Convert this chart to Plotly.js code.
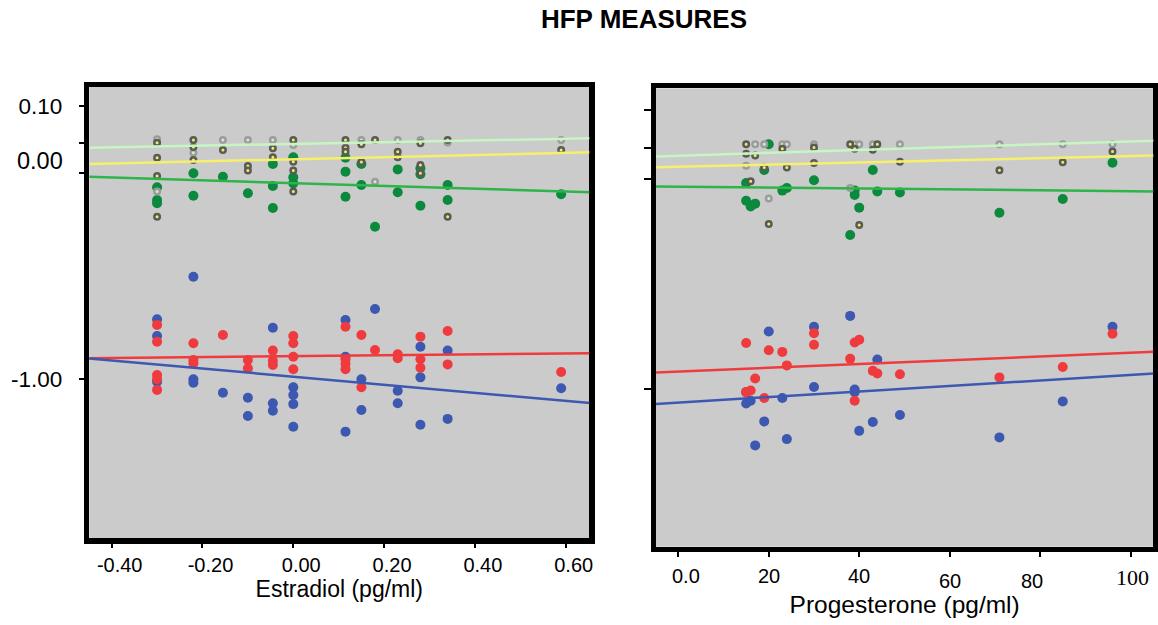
<!DOCTYPE html>
<html>
<head>
<meta charset="utf-8">
<script src="https://cdn.plot.ly/plotly-3.0.1.min.js"></script>
<style>
  html, body { margin: 0; padding: 0; background: #ffffff; }
  #chart { width: 1158px; height: 625px; }
</style>
</head>
<body>
<div id="chart"></div>
<script>
// ---------------- Data: Estradiol panel ----------------
const e2LightX = [-0.30, -0.30, -0.22, -0.155, -0.10, -0.045, 0.0, 0.15, 0.18, 0.23, 0.28, 0.34, 0.59];
const e2LightY = [0.165, -0.089, 0.100, 0.162, 0.162, 0.162, 0.138, 0.162, -0.041, 0.162, 0.162, 0.150, 0.162];

const e2YellowX = [-0.30, -0.30, -0.30, -0.30, -0.22, -0.22, -0.22, -0.155, -0.10, -0.10, -0.045, -0.045,
                   0.0, 0.0, 0.0, 0.0, 0.115, 0.115, 0.115, 0.15, 0.15, 0.18, 0.23, 0.23, 0.28, 0.28, 0.28, 0.34, 0.34, 0.59];
const e2YellowY = [0.149, 0.076, -0.013, -0.211, 0.162, 0.128, 0.065, 0.113, 0.035, 0.013, 0.122, 0.078,
                   0.162, 0.056, 0.013, -0.089, 0.162, 0.124, 0.105, 0.141, 0.055, 0.162, 0.105, 0.078, 0.146, 0.040, 0.0, 0.162, -0.211, 0.113];

const e2GreenX = [-0.30, -0.30, -0.30, -0.22, -0.22, -0.155, -0.10, -0.045, -0.045, -0.045, 0.0, 0.0, 0.0,
                  0.115, 0.115, 0.115, 0.15, 0.15, 0.18, 0.23, 0.23, 0.28, 0.28, 0.28, 0.34, 0.34, 0.59];
const e2GreenY = [-0.068, -0.130, -0.146, 0.0, -0.109, -0.017, -0.097, 0.045, -0.062, -0.169, 0.078, -0.019, -0.049,
                  0.076, 0.008, -0.114, 0.045, -0.057, -0.260, 0.019, -0.092, 0.024, -0.005, -0.158, -0.057, -0.130, -0.102];

const e2BlueX = [-0.30, -0.30, -0.30, -0.22, -0.22, -0.22, -0.155, -0.10, -0.10, -0.045, -0.045, -0.045,
                 0.0, 0.0, 0.0, 0.0, 0.115, 0.115, 0.115, 0.15, 0.15, 0.18, 0.23, 0.23, 0.28, 0.28, 0.28, 0.34, 0.34, 0.59];
const e2BlueY = [-0.710, -0.791, -1.013, -0.503, -1.001, -1.018, -1.067, -1.091, -1.180, -0.751, -1.118, -1.154,
                 -1.040, -1.078, -1.122, -1.232, -0.713, -0.892, -1.256, -1.001, -1.151, -0.660, -1.057, -1.118, -0.843, -0.992, -1.222, -0.862, -1.194, -1.045];

const e2RedX = [-0.30, -0.30, -0.30, -0.30, -0.30, -0.22, -0.22, -0.22, -0.155, -0.10, -0.10, -0.045, -0.045, -0.045,
                0.0, 0.0, 0.0, 0.0, 0.115, 0.115, 0.115, 0.115, 0.15, 0.15, 0.18, 0.23, 0.23, 0.28, 0.28, 0.28, 0.34, 0.34, 0.59];
const e2RedY = [-0.737, -0.819, -0.981, -1.001, -1.053, -0.826, -0.908, -0.924, -0.786, -0.908, -0.948, -0.862, -0.911, -0.932,
                -0.791, -0.826, -0.892, -0.953, -0.746, -0.904, -0.927, -0.953, -0.786, -1.040, -0.859, -0.880, -0.899, -0.794, -0.904, -0.945, -0.767, -0.929, -0.966];

// fitted lines (end values)
const e2LineX = [-0.4555, 0.658];
const e2LineLight = [0.124, 0.170];
const e2LineYellow = [0.045, 0.102];
const e2LineGreen = [-0.017, -0.092];
const e2LineRed = [-0.899, -0.875];
const e2LineBlue = [-0.899, -1.118];

// ---------------- Data: Progesterone panel ----------------
const pLightX = [15, 17, 19, 20, 23, 24, 30, 38, 39, 40, 43, 49, 71, 85, 96];
const pLightY = [0.062, 0.164, 0.164, -0.093, 0.164, 0.164, 0.164, -0.044, 0.164, 0.164, 0.164, 0.164, 0.164, 0.164, 0.164];

const pYellowX = [15, 15, 16, 17, 19, 20, 23, 24, 30, 30, 38, 39, 40, 43, 44, 49, 71, 85, 96];
const pYellowY = [0.164, 0.119, -0.012, 0.111, 0.054, -0.215, 0.143, 0.054, 0.148, 0.075, 0.164, 0.143, -0.220, 0.138, 0.164, 0.081, 0.040, 0.078, 0.130];

const pGreenX = [15, 15, 16, 17, 19, 20, 23, 24, 30, 38, 39, 39, 40, 43, 44, 49, 71, 85, 96];
const pGreenY = [-0.020, -0.104, -0.131, -0.118, 0.042, 0.164, -0.056, -0.044, -0.007, -0.267, -0.056, -0.077, -0.137, 0.042, -0.060, -0.065, -0.161, -0.096, 0.076];

const pBlueX = [15, 15, 16, 17, 19, 20, 23, 24, 30, 30, 38, 39, 39, 40, 43, 44, 49, 71, 85, 96];
const pBlueY = [-1.013, -1.067, -1.054, -1.266, -1.152, -0.725, -1.041, -1.236, -0.703, -0.989, -0.651, -1.001, -1.013, -1.197, -1.155, -0.858, -1.122, -1.228, -1.057, -0.703];

const pRedX = [15, 15, 16, 17, 19, 20, 23, 24, 30, 30, 38, 39, 39, 40, 43, 44, 49, 71, 85, 96];
const pRedY = [-0.780, -1.013, -1.005, -0.948, -1.041, -0.814, -0.822, -0.886, -0.733, -0.788, -0.855, -0.777, -1.054, -0.764, -0.912, -0.924, -0.928, -0.943, -0.894, -0.736];

const pLineX = [-5.53, 105.5];
const pLineLight = [0.106, 0.181];
const pLineYellow = [0.054, 0.111];
const pLineGreen = [-0.036, -0.060];
const pLineRed = [-0.920, -0.821];
const pLineBlue = [-1.070, -0.924];

// ---------------- Tick labels ----------------
const yTickVals = [0.325, 0.148, 0, -1];
const yTickText = ['0.10', '', '', '-1.00'];
const yZeroLabel = '0.00';
const e2TickVals = [-0.4, -0.2, 0, 0.2, 0.4, 0.6];
const e2TickText = ['-0.40', '-0.20', '0.00', '0.20', '0.40', '0.60'];
const pTickVals = [0, 20, 40, 60, 80, 100];
const pTickText = ['0.0', '20', '40', '60', '80', '100'];

// ---------------- Styles ----------------
const FONT = 'Liberation Sans, Arial, Helvetica, sans-serif';
const SERIF = 'Liberation Serif, Times New Roman, serif';
const C = {
  bg: '#cbcbcb',
  red: '#ef3b3e', blue: '#3c58b0', green: '#0b8a3e', greenLine: '#2db549',
  yellowLine: '#f6f06a', lightLine: '#c6f6c2',
  yellowFill: '#f4ee5c', yellowRing: '#5a5a5a',
  lightFill: '#cdeecb', lightRing: '#9c9c9c'
};

function dots(x, y, color, xa, ya) {
  return { type: 'scatter', mode: 'markers', x: x, y: y, xaxis: xa, yaxis: ya,
    marker: { size: 10, color: color, line: { width: 0 } }, hoverinfo: 'skip', showlegend: false };
}
function rings(x, y, fill, ring, xa, ya) {
  return { type: 'scatter', mode: 'markers', x: x, y: y, xaxis: xa, yaxis: ya,
    marker: { size: 5.5, color: fill, line: { width: 2.5, color: ring } }, hoverinfo: 'skip', showlegend: false };
}
function fit(x, y, color, xa, ya) {
  return { type: 'scatter', mode: 'lines', x: x, y: y, xaxis: xa, yaxis: ya, cliponaxis: false,
    line: { color: color, width: 2.5 }, hoverinfo: 'skip', showlegend: false };
}

const traces = [
  dots(e2BlueX, e2BlueY, C.blue, 'x', 'y'),
  dots(e2RedX, e2RedY, C.red, 'x', 'y'),
  dots(e2GreenX, e2GreenY, C.green, 'x', 'y'),
  rings(e2LightX, e2LightY, C.lightFill, C.lightRing, 'x', 'y'),
  rings(e2YellowX, e2YellowY, C.yellowFill, C.yellowRing, 'x', 'y'),
  fit(e2LineX, e2LineLight, C.lightLine, 'x', 'y'),
  fit(e2LineX, e2LineYellow, C.yellowLine, 'x', 'y'),
  fit(e2LineX, e2LineGreen, C.greenLine, 'x', 'y'),
  fit(e2LineX, e2LineRed, C.red, 'x', 'y'),
  fit(e2LineX, e2LineBlue, C.blue, 'x', 'y'),

  dots(pBlueX, pBlueY, C.blue, 'x2', 'y2'),
  dots(pRedX, pRedY, C.red, 'x2', 'y2'),
  dots(pGreenX, pGreenY, C.green, 'x2', 'y2'),
  rings(pLightX, pLightY, C.lightFill, C.lightRing, 'x2', 'y2'),
  rings(pYellowX, pYellowY, C.yellowFill, C.yellowRing, 'x2', 'y2'),
  fit(pLineX, pLineLight, C.lightLine, 'x2', 'y2'),
  fit(pLineX, pLineYellow, C.yellowLine, 'x2', 'y2'),
  fit(pLineX, pLineGreen, C.greenLine, 'x2', 'y2'),
  fit(pLineX, pLineRed, C.red, 'x2', 'y2'),
  fit(pLineX, pLineBlue, C.blue, 'x2', 'y2')
];

const frame = { showline: true, linewidth: 5.5, linecolor: '#000000', mirror: true,
  showgrid: false, zeroline: false, ticks: 'outside', tickcolor: '#000000', tickwidth: 2,
  layer: 'below traces', fixedrange: true };

// right panel x tick labels (drawn individually; the original has uneven offsets)
const pLabelDX = [8, 0, 0, 0, -8, 2];
const pLabelY = [576, 576, 576, 581, 581, 577];
const annotations = pTickText.map((t, i) => ({
  text: t, xref: 'x2', x: pTickVals[i], xshift: pLabelDX[i],
  yref: 'paper', y: 1 - pLabelY[i] / 625, yanchor: 'middle', xanchor: 'center',
  showarrow: false,
  font: { family: i === 5 ? SERIF : FONT, size: i === 5 ? 22 : 20, color: '#000000' }
}));
annotations.push({
  text: yZeroLabel, xref: 'paper', x: 65 / 1158, xanchor: 'right',
  yref: 'y', y: 0.06, yanchor: 'middle', showarrow: false,
  font: { family: FONT, size: 23.5, color: '#000000' }
});

const layout = {
  width: 1158, height: 625,
  margin: { l: 0, r: 0, t: 0, b: 0 },
  paper_bgcolor: '#ffffff', plot_bgcolor: C.bg,
  font: { family: FONT, color: '#000000' },
  showlegend: false,
  title: { text: 'HFP MEASURES', x: 644 / 1158, xanchor: 'center', xref: 'paper',
    y: 1 - 19 / 625, yanchor: 'middle', yref: 'container',
    font: { family: FONT, size: 26, weight: 'bold', color: '#000000' } },
  xaxis: Object.assign({}, frame, {
    domain: [89.3 / 1158, 589.3 / 1158], range: [-0.4493, 0.652], anchor: 'y',
    tickvals: e2TickVals, ticktext: e2TickText, ticklen: 4, ticklabelshift: 8,
    tickfont: { family: FONT, size: 20, color: '#000000' },
    title: { text: 'Estradiol (pg/ml)', font: { family: FONT, size: 23, color: '#000000' }, standoff: 4 }
  }),
  yaxis: Object.assign({}, frame, {
    domain: [1 - 538.3 / 625, 1 - 87 / 625], range: [-1.7744, 0.4195], anchor: 'x',
    tickvals: yTickVals, ticktext: yTickText, ticklen: 5, ticklabelstandoff: 12,
    tickfont: { family: FONT, size: 22.5, color: '#000000' }
  }),
  xaxis2: Object.assign({}, frame, {
    domain: [656 / 1158, 1153.3 / 1158], range: [-4.93, 105.02], anchor: 'y2',
    tickvals: pTickVals, ticktext: pTickText, showticklabels: false, ticklen: 5,
    title: { text: 'Progesterone (pg/ml)', font: { family: FONT, size: 24.5, color: '#000000' }, standoff: 41 }
  }),
  yaxis2: Object.assign({}, frame, {
    domain: [1 - 546.7 / 625, 1 - 88.3 / 625], range: [-1.747, 0.4297], anchor: 'x2',
    tickvals: yTickVals, showticklabels: false, ticklen: 7
  }),
  annotations: annotations
};

Plotly.newPlot('chart', traces, layout, { staticPlot: true, displayModeBar: false });
</script>
</body>
</html>
